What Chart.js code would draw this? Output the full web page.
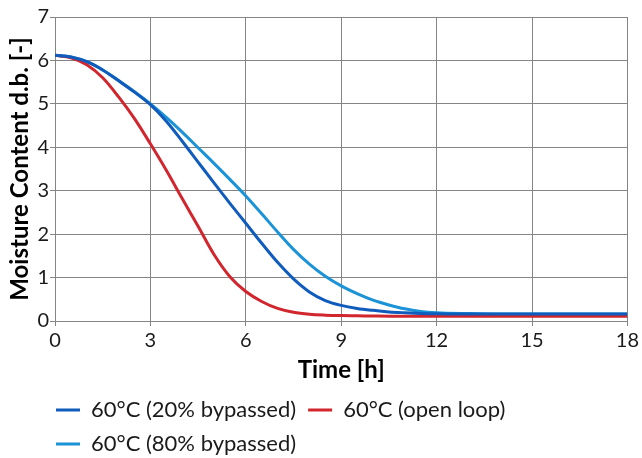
<!DOCTYPE html>
<html>
<head>
<meta charset="utf-8">
<script src="https://cdn.jsdelivr.net/npm/chart.js@4"></script>
<style>
  body { margin: 0; background: #fff; }
  #wrap { width: 642px; height: 458px; }
</style>
</head>
<body>
<div id="wrap"><canvas id="myChart" width="642" height="458"></canvas></div>
<script>
// drying time in hours
var hours = [0, 0.5, 1, 1.5, 2, 2.5, 3, 3.5, 4, 4.5, 5, 5.5, 6, 6.5, 7, 7.5, 8, 8.5, 9, 9.5, 10, 10.5, 11, 11.5, 12, 13, 14, 15, 16, 17, 18];

// moisture content (dry basis) for each run
var bypass20 = [6.12, 6.08, 5.97, 5.78, 5.53, 5.27, 4.98, 4.6, 4.14, 3.66, 3.18, 2.71, 2.25, 1.79, 1.35, 0.97, 0.67, 0.47, 0.36, 0.29, 0.245, 0.21, 0.19, 0.175, 0.165, 0.16, 0.16, 0.16, 0.16, 0.16, 0.16];
var openLoop = [6.12, 6.06, 5.9, 5.6, 5.16, 4.66, 4.08, 3.47, 2.82, 2.18, 1.53, 1.02, 0.68, 0.45, 0.29, 0.2, 0.155, 0.135, 0.125, 0.12, 0.115, 0.11, 0.11, 0.11, 0.11, 0.11, 0.11, 0.11, 0.11, 0.11, 0.11];
var bypass80 = [6.12, 6.08, 5.97, 5.78, 5.54, 5.28, 5.0, 4.69, 4.35, 3.99, 3.63, 3.26, 2.88, 2.47, 2.05, 1.65, 1.31, 1.03, 0.81, 0.63, 0.48, 0.37, 0.28, 0.22, 0.19, 0.17, 0.16, 0.16, 0.16, 0.16, 0.16];

var labels = ['60°C (20% bypassed)', '60°C (open loop)', '60°C (80% bypassed)'];
var colors = ['#0f5cbd', '#d1262e', '#1b93d6'];
var xTicks = [0, 3, 6, 9, 12, 15, 18];

function toPoints(ys) {
    return hours.map(function(h, i) { return {x: h, y: ys[i]}; });
}

var series = [bypass20, openLoop, bypass80];
var datasets = series.map(function(ys, i) {
    return {
        label: labels[i],
        data: toPoints(ys),
        borderColor: colors[i],
        backgroundColor: colors[i],
        borderWidth: 3,
        pointRadius: 0,
        cubicInterpolationMode: 'monotone',
        fill: false
    };
});

// nudge the legend so the rows start just right of the y axis
var legendShift = {
    id: 'legendShift',
    afterLayout: function(chart) {
        var lg = chart.legend;
        lg.left -= 11;
        lg.right -= 11;
    }
};

var gridColor = '#858585';
var ctx = document.getElementById('myChart');
var myChart = new Chart(ctx, {
    type: 'line',
    data: { datasets: datasets },
    plugins: [legendShift],
    options: {
        responsive: false,
        animation: false,
        layout: { padding: { top: 17, right: 11, bottom: -7, left: 0 } },
        plugins: {
            tooltip: { enabled: false },
            legend: {
                position: 'bottom',
                align: 'start',
                fullSize: false,
                labels: {
                    usePointStyle: true,
                    pointStyle: 'line',
                    pointStyleWidth: 24,
                    padding: 12,
                    color: '#1a1a1a',
                    font: { family: 'Lato', size: 22 }
                }
            }
        },
        scales: {
            x: {
                type: 'linear',
                min: 0,
                max: 18,
                afterBuildTicks: function(scale) {
                    scale.ticks = xTicks.map(function(v) { return {value: v}; });
                },
                afterFit: function(scale) { scale.height = 66; },
                grid: { color: gridColor, lineWidth: 1, tickLength: 5 },
                border: { color: gridColor, width: 1 },
                ticks: { color: '#1a1a1a', padding: 3, maxRotation: 0, font: { family: 'Lato', size: 20 } },
                title: {
                    display: true,
                    text: 'Time [h]',
                    color: '#000',
                    padding: { top: 0, bottom: 2 },
                    font: { family: 'Lato', size: 24, weight: 'bold' }
                }
            },
            y: {
                min: 0,
                max: 7,
                afterFit: function(scale) { scale.width = 55; },
                grid: { color: gridColor, lineWidth: 1, tickLength: 5 },
                border: { color: gridColor, width: 1 },
                ticks: { stepSize: 1, color: '#1a1a1a', padding: 1, font: { family: 'Lato', size: 20 } },
                title: {
                    display: true,
                    text: 'Moisture Content d.b. [-]',
                    color: '#000',
                    padding: { top: 6, bottom: 0 },
                    font: { family: 'Lato', size: 24, weight: 'bold' }
                }
            }
        }
    }
});
</script>
</body>
</html>
